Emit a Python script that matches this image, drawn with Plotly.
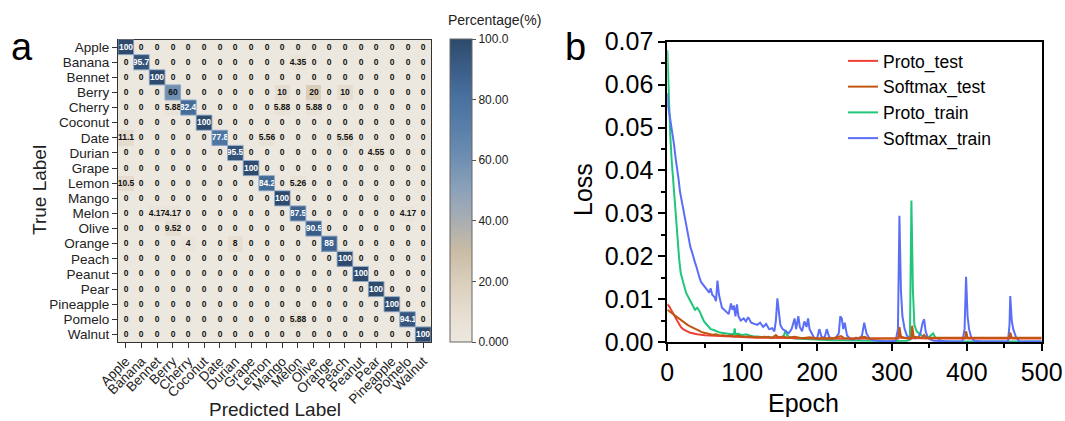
import plotly.graph_objects as go

# ---------------- data: confusion matrix ----------------
labels = ["Apple", "Banana", "Bennet", "Berry", "Cherry", "Coconut", "Date", "Durian",
          "Grape", "Lemon", "Mango", "Melon", "Olive", "Orange", "Peach", "Peanut",
          "Pear", "Pineapple", "Pomelo", "Walnut"]

# diagonal values and (row, col, value) of non-zero off-diagonal entries
diag_values = [100, 95.7, 100, 60, 82.4, 100, 77.8, 95.5, 100, 84.2,
               100, 87.5, 90.5, 88, 100, 100, 100, 100, 94.1, 100]
off_rows = [1, 3, 3, 3, 4, 4, 4, 6, 6, 6, 7, 9, 9, 11, 11, 11, 12, 13, 13, 18]
off_cols = [11, 10, 12, 14, 3, 10, 12, 0, 9, 14, 16, 0, 11, 2, 3, 18, 3, 4, 7, 11]
off_vals = [4.35, 10, 20, 10, 5.88, 5.88, 5.88, 11.1, 5.56, 5.56, 4.55, 10.5, 5.26,
            4.17, 4.17, 4.17, 9.52, 4, 8, 5.88]

cbar_tickvals = [0, 20, 40, 60, 80, 100]
cbar_ticktext = ["0.000", "20.00", "40.00", "60.00", "80.00", "100.0"]

# ---------------- data: loss curves ----------------
proto_train_x = [0, 2, 4, 6, 8, 10, 12, 14, 16, 18, 20, 22, 25, 28, 31, 34, 37, 40, 43, 46,
                 49, 52, 55, 58, 62, 66, 70, 75, 80, 85, 89, 90, 91, 95, 100, 105, 110, 115,
                 120, 125, 130, 135, 140, 145, 150, 155, 158, 160, 165, 170, 180, 190, 200,
                 210, 220, 230, 240, 250, 260, 270, 280, 290, 300, 310, 320, 324, 326, 328,
                 330, 333, 336, 340, 345, 350, 355, 358, 362, 365, 370, 400, 450, 500]
proto_train_y = [0.068, 0.055, 0.048, 0.042, 0.037, 0.033, 0.028, 0.022, 0.019, 0.016, 0.0145,
                 0.013, 0.0115, 0.0105, 0.0095, 0.0085, 0.0075, 0.008, 0.0072, 0.006, 0.0048,
                 0.0042, 0.0035, 0.003, 0.0028, 0.0025, 0.0022, 0.0021, 0.002, 0.0018, 0.0019,
                 0.0032, 0.0018, 0.0019, 0.0016, 0.0018, 0.0015, 0.0013, 0.0013, 0.0012, 0.0011,
                 0.0012, 0.0010, 0.0011, 0.0010, 0.0012, 0.0028, 0.0015, 0.0010, 0.0008, 0.0007,
                 0.0006, 0.0005, 0.0004, 0.0004, 0.0004, 0.0004, 0.0003, 0.0003, 0.0004, 0.0003,
                 0.0002, 0.0002, 0.0003, 0.0003, 0.0005, 0.033, 0.012, 0.004, 0.0025, 0.002,
                 0.0015, 0.001, 0.0012, 0.002, 0.001, 0.0008, 0.0003, 0.0002, 0.0002, 0.0001,
                 0.0001]

softmax_train_x = [0, 1, 3, 5, 7, 9, 11, 13, 15, 17, 19, 21, 23, 25, 27, 29, 31, 33, 35, 37,
                   39, 41, 43, 45, 47, 50, 53, 56, 58, 60, 63, 65, 67, 69, 71, 73, 76, 79, 82,
                   85, 87, 89, 91, 93, 95, 98, 102, 105, 108, 112, 116, 120, 124, 128, 132, 136,
                   140, 143, 145, 147, 149, 151, 154, 158, 162, 166, 170, 172, 175, 177, 180,
                   183, 186, 188, 190, 193, 196, 200, 203, 206, 210, 213, 216, 220, 225, 229,
                   231, 233, 235, 237, 240, 244, 248, 252, 256, 260, 263, 266, 270, 275, 280,
                   290, 300, 305, 308, 310, 312, 314, 317, 320, 323, 327, 331, 335, 338, 341,
                   343, 345, 348, 352, 356, 365, 380, 394, 397, 399, 401, 403, 406, 410, 420,
                   440, 455, 457, 458, 460, 462, 466, 470, 500]
softmax_train_y = [0.058, 0.055, 0.053, 0.051, 0.049, 0.046, 0.043, 0.041, 0.038, 0.035, 0.033,
                   0.031, 0.029, 0.027, 0.025, 0.023, 0.022, 0.021, 0.0195, 0.0185, 0.0175,
                   0.016, 0.015, 0.014, 0.0135, 0.013, 0.012, 0.0115, 0.0125, 0.011, 0.0105,
                   0.0095, 0.0143, 0.011, 0.0095, 0.008, 0.0075, 0.007, 0.0065, 0.009, 0.0075,
                   0.0085, 0.006, 0.0088, 0.006, 0.005, 0.0055, 0.0048, 0.0058, 0.0045, 0.0042,
                   0.004, 0.0045, 0.0035, 0.0042, 0.003, 0.0032, 0.0025, 0.005, 0.0102, 0.007,
                   0.004, 0.003, 0.0025, 0.002, 0.003, 0.0055, 0.003, 0.006, 0.0035, 0.0025,
                   0.0048, 0.0035, 0.0055, 0.003, 0.002, 0.001, 0.0008, 0.003, 0.0012, 0.001,
                   0.003, 0.0012, 0.0008, 0.001, 0.002, 0.006, 0.0055, 0.003, 0.0045, 0.0015,
                   0.0008, 0.0005, 0.001, 0.0007, 0.0015, 0.0045, 0.002, 0.0008, 0.0004, 0.0003,
                   0.0002, 0.0002, 0.0003, 0.003, 0.0294, 0.012, 0.006, 0.003, 0.0015, 0.001,
                   0.001, 0.0008, 0.001, 0.002, 0.0045, 0.0053, 0.0025, 0.001, 0.0005, 0.0003,
                   0.0002, 0.0001, 0.0001, 0.003, 0.0152, 0.006, 0.003, 0.001, 0.0003, 0.0001,
                   0.0001, 0.0002, 0.004, 0.0107, 0.005, 0.003, 0.001, 0.0002, 0.0001]

proto_test_x = [0, 3, 6, 9, 12, 15, 18, 21, 25, 30, 35, 40, 50, 60, 70, 80, 90, 100, 120, 140,
                160, 180, 200, 250, 300, 308, 310, 312, 326, 327, 329, 350, 398, 399, 401, 458,
                459, 461, 500]
proto_test_y = [0.0088, 0.0082, 0.0072, 0.0062, 0.0052, 0.0042, 0.0035, 0.003, 0.0026, 0.0022,
                0.002, 0.0018, 0.0016, 0.0015, 0.0014, 0.0013, 0.0012, 0.0011, 0.001, 0.001,
                0.0009, 0.0008, 0.0008, 0.0008, 0.0008, 0.0008, 0.0025, 0.001, 0.0008, 0.002,
                0.0009, 0.0008, 0.0008, 0.0015, 0.0008, 0.0008, 0.0012, 0.0008, 0.0008]

softmax_test_x = [0, 3, 6, 9, 12, 15, 18, 21, 24, 27, 30, 33, 36, 39, 42, 45, 48, 52, 56, 60,
                  65, 70, 75, 80, 85, 90, 95, 100, 110, 120, 130, 140, 145, 148, 155, 160, 170,
                  180, 190, 200, 210, 220, 232, 236, 250, 264, 268, 280, 300, 309, 310, 312,
                  320, 326, 327, 329, 340, 343, 346, 380, 398, 399, 401, 430, 457, 458, 460, 500]
softmax_test_y = [0.0075, 0.0071, 0.0068, 0.0062, 0.0058, 0.0054, 0.005, 0.0046, 0.0043, 0.004,
                  0.0037, 0.0034, 0.0031, 0.0029, 0.0026, 0.0024, 0.0022, 0.002, 0.0019, 0.0017,
                  0.0018, 0.0015, 0.0016, 0.0014, 0.0015, 0.0013, 0.0015, 0.0012, 0.0013, 0.0011,
                  0.0012, 0.001, 0.0016, 0.0011, 0.0013, 0.001, 0.0012, 0.0009, 0.0011, 0.0008,
                  0.0009, 0.0008, 0.0014, 0.0009, 0.0008, 0.0012, 0.0008, 0.0008, 0.0008, 0.0009,
                  0.0035, 0.0012, 0.0009, 0.0009, 0.0038, 0.0012, 0.001, 0.0016, 0.001, 0.001,
                  0.001, 0.0025, 0.001, 0.001, 0.001, 0.0022, 0.001, 0.001]

loss_x_ticks = [0, 100, 200, 300, 400, 500]
loss_y_ticks = [0.00, 0.01, 0.02, 0.03, 0.04, 0.05, 0.06, 0.07]

# ---------------- build matrix ----------------
n = len(labels)
z = [[0.0] * n for _ in range(n)]
for i, v in enumerate(diag_values):
    z[i][i] = v
for r, c, v in zip(off_rows, off_cols, off_vals):
    z[r][c] = v
text = [["<span style='color:{}'>{:g}</span>".format("#FFFFFF" if v >= 70 else "#111111", v)
         for v in row] for row in z]

FONT = "Arial, 'Liberation Sans', sans-serif"
W, H = 1065, 421

def px_x(p):
    return p / W

def px_y(p):
    return 1 - p / H

colorscale = [
    [0.00, "#EDE8DF"],
    [0.10, "#E6DDD0"],
    [0.20, "#DACEBB"],
    [0.30, "#C9BBA5"],
    [0.40, "#A9AEB2"],
    [0.50, "#8CA2BA"],
    [0.60, "#7090B2"],
    [0.70, "#5A80AA"],
    [0.80, "#4A72A0"],
    [0.90, "#3B5E88"],
    [1.00, "#2E4A6C"],
]

fig = go.Figure()

fig.add_trace(go.Heatmap(
    z=z, x=list(range(n)), y=list(range(n)),
    text=text, texttemplate="<b>%{text}</b>",
    textfont=dict(family=FONT, size=8.5),
    colorscale=colorscale, zmin=0, zmax=100,
    xaxis="x", yaxis="y",
    colorbar=dict(
        x=px_x(450), xanchor="left", y=px_y(342), yanchor="bottom",
        len=(342 - 39) / H, lenmode="fraction", thickness=22, thicknessmode="pixels",
        outlinecolor="#666", outlinewidth=1, xpad=0, ypad=0,
        tickvals=cbar_tickvals, ticktext=cbar_ticktext,
        ticks="outside", ticklen=4, tickcolor="#555",
        tickfont=dict(family=FONT, size=12, color="#222"),
    ),
    showscale=True, hoverongaps=False,
))

# outline around strongly classified cells (from the data)
for i in range(n):
    for j in range(n):
        if z[i][j] >= 50:
            fig.add_shape(type="rect", xref="x", yref="y",
                          x0=j - 0.5, x1=j + 0.5, y0=i - 0.5, y1=i + 0.5,
                          line=dict(color="#8FA8C6", width=1))

colors = {"Proto_test": "#EE4035", "Softmax_test": "#C0560F",
          "Proto_train": "#21C67C", "Softmax_train": "#5B6EF7"}
rank = {"Proto_test": 1, "Softmax_test": 2, "Proto_train": 3, "Softmax_train": 4}
series = [("Proto_train", proto_train_x, proto_train_y),
          ("Softmax_train", softmax_train_x, softmax_train_y),
          ("Proto_test", proto_test_x, proto_test_y),
          ("Softmax_test", softmax_test_x, softmax_test_y)]
for name, xs, ys in series:
    fig.add_trace(go.Scatter(x=xs, y=ys, mode="lines", name=name,
                             line=dict(color=colors[name], width=2),
                             xaxis="x2", yaxis="y2", legendrank=rank[name]))

axis_line = dict(showline=True, linecolor="#333", linewidth=1.2, mirror=True)

fig.update_layout(
    width=W, height=H,
    margin=dict(l=0, r=0, t=0, b=0, autoexpand=False),
    paper_bgcolor="white", plot_bgcolor="white",
    font=dict(family=FONT, color="black"),
    xaxis=dict(domain=[px_x(118), px_x(431)], range=[-0.5, n - 0.5], automargin=False,
               tickvals=list(range(n)), ticktext=labels, tickangle=-45,
               ticks="outside", ticklen=5, tickcolor="#333",
               tickfont=dict(size=13.5, color="#222"), showgrid=False, zeroline=False,
               **axis_line),
    yaxis=dict(domain=[px_y(342), px_y(39.5)], range=[n - 0.5, -0.5], automargin=False,
               tickvals=list(range(n)), ticktext=labels,
               ticks="outside", ticklen=5, tickcolor="#333",
               tickfont=dict(size=13.5, color="#222"), showgrid=False, zeroline=False,
               **axis_line),
    xaxis2=dict(domain=[px_x(667.3), px_x(1041.7)], range=[0, 500], anchor="y2",
                automargin=False,
                tickvals=loss_x_ticks, ticks="outside", ticklen=7, tickwidth=2,
                tickcolor="black",
                minor=dict(dtick=50, tick0=0, ticks="outside", ticklen=4, tickwidth=1.5,
                           tickcolor="black"),
                tickfont=dict(size=25, color="black"), showgrid=False, zeroline=False,
                showline=True, linecolor="black", linewidth=2, mirror=True),
    yaxis2=dict(domain=[px_y(342), px_y(41.7)], range=[0, 0.07], anchor="x2",
                automargin=False,
                tickvals=loss_y_ticks, tickformat=".2f", ticks="outside", ticklen=7,
                tickwidth=2, tickcolor="black",
                minor=dict(dtick=0.005, tick0=0, ticks="outside", ticklen=4, tickwidth=1.5,
                           tickcolor="black"),
                tickfont=dict(size=25, color="black"), showgrid=False, zeroline=False,
                showline=True, linecolor="black", linewidth=2, mirror=True),
    legend=dict(x=px_x(843), y=px_y(43), xanchor="left", yanchor="top",
                font=dict(size=17.5, color="black"), bgcolor="rgba(0,0,0,0)",
                tracegroupgap=0, itemwidth=30),
    showlegend=True,
)

annots = [
    dict(text="a", x=px_x(22), y=px_y(47), font=dict(size=38)),
    dict(text="b", x=px_x(575), y=px_y(47), font=dict(size=38)),
    dict(text="Predicted Label", x=px_x(275), y=px_y(409), font=dict(size=19, color="#222")),
    dict(text="True Label", x=px_x(40), y=px_y(190), font=dict(size=19, color="#222"), textangle=-90),
    dict(text="Percentage(%)", x=px_x(494), y=px_y(20), font=dict(size=14, color="#222")),
    dict(text="Loss", x=px_x(583), y=px_y(190), font=dict(size=25), textangle=-90),
    dict(text="Epoch", x=px_x(803), y=px_y(403), font=dict(size=25)),
]
for a in annots:
    fig.add_annotation(xref="paper", yref="paper", showarrow=False,
                       xanchor="center", yanchor="middle", **a)

fig.write_html("out.html", config={"displayModeBar": False},
               post_script="document.body.style.margin='0';"
                           "document.body.style.overflow='hidden';")
